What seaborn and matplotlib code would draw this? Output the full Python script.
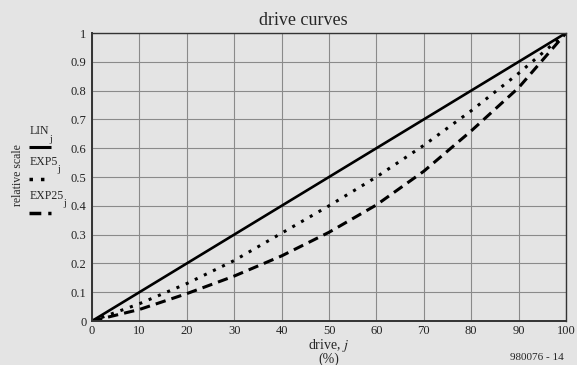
import numpy as np
import pandas as pd
import seaborn as sns
import matplotlib.pyplot as plt
from matplotlib.lines import Line2D

drive = [0, 10, 20, 30, 40, 50, 60, 70, 80, 90, 100]
lin = [0, 0.1, 0.2, 0.3, 0.4, 0.5, 0.6, 0.7, 0.8, 0.9, 1.0]
exp5 = [0, 0.06, 0.13, 0.21, 0.305, 0.40, 0.50, 0.61, 0.73, 0.86, 1.0]
exp25 = [0, 0.04, 0.095, 0.156, 0.226, 0.308, 0.403, 0.52, 0.66, 0.81, 1.0]
series_names = ['LIN', 'EXP5', 'EXP25']
x_ticks = [0, 10, 20, 30, 40, 50, 60, 70, 80, 90, 100]
y_ticks = [0, 0.1, 0.2, 0.3, 0.4, 0.5, 0.6, 0.7, 0.8, 0.9, 1]
y_tick_labels = ['0', '0.1', '0.2', '0.3', '0.4', '0.5', '0.6', '0.7', '0.8', '0.9', '1']

bg = '#e4e4e4'
sns.set_theme(style='ticks')
plt.rcParams['font.family'] = ['Liberation Serif', 'DejaVu Serif']
plt.rcParams['mathtext.fontset'] = 'stix'

df = pd.DataFrame({'drive': drive * 3,
                   'value': lin + exp5 + exp25,
                   'curve': [n for n in series_names for _ in drive]})

fig = plt.figure(figsize=(5.77, 3.65), dpi=100, facecolor=bg)
ax = fig.add_axes([92 / 577, 1 - 321 / 365, 474 / 577, 288 / 365])
ax.set_facecolor(bg)

styles = {'LIN': ((0, ()), 1.9), 'EXP5': ((0, (1, 2.3)), 2.2), 'EXP25': ((0, (3.4, 2.0)), 2.2)}
for name in series_names:
    ls, lw = styles[name]
    sns.lineplot(data=df[df['curve'] == name], x='drive', y='value', ax=ax,
                 color='black', linestyle=ls, linewidth=lw, legend=False)

ax.set_xlim(0, 100)
ax.set_ylim(0, 1)
ax.set_xticks(x_ticks)
ax.set_yticks(y_ticks)
ax.set_yticklabels(y_tick_labels)
ax.grid(True, color='#8a8a8a', linewidth=0.8)
ax.tick_params(length=0, labelsize=9, colors='#222222')
ax.tick_params(axis='y', pad=4)
ax.tick_params(axis='x', pad=3)
for s in ax.spines.values():
    s.set_color('#333333')
    s.set_linewidth(1.0)
ax.spines['left'].set_linewidth(1.4)
ax.spines['bottom'].set_linewidth(1.4)
ax.set_xlabel('')
ax.set_ylabel('')

fig.text(303 / 577, 1 - 25 / 365, 'drive curves', ha='center', va='baseline', fontsize=13)
fig.text(329 / 577, 1 - 345 / 365, r'drive, $j$', ha='center', va='center', fontsize=10)
fig.text(329 / 577, 1 - 359 / 365, '(%)', ha='center', va='center', fontsize=10)
fig.text(537 / 577, 1 - 358 / 365, '980076 - 14', ha='center', va='center', fontsize=8)
fig.text(18 / 577, 1 - 175 / 365, 'relative scale', rotation=90, ha='center', va='center', fontsize=8.5)

# legend drawn by hand (label above its line sample, subscript j)
leg = [('LIN', 131, 49, 139, 147, styles['LIN']),
       ('EXP5', 162, 57, 170, 179, styles['EXP5']),
       ('EXP25', 196, 63, 204, 213, styles['EXP25'])]
for name, ty, jx, jy, ly, (ls, lw) in leg:
    fig.text(30 / 577, 1 - ty / 365, name, ha='left', va='center', fontsize=8.5)
    fig.text(jx / 577, 1 - jy / 365, 'j', ha='left', va='center', fontsize=7)
    fig.add_artist(Line2D([29 / 577, 51 / 577], [1 - ly / 365, 1 - ly / 365],
                          color='black', linestyle=ls, linewidth=lw + 0.3))

fig.savefig('out.png', dpi=100, facecolor=bg)
